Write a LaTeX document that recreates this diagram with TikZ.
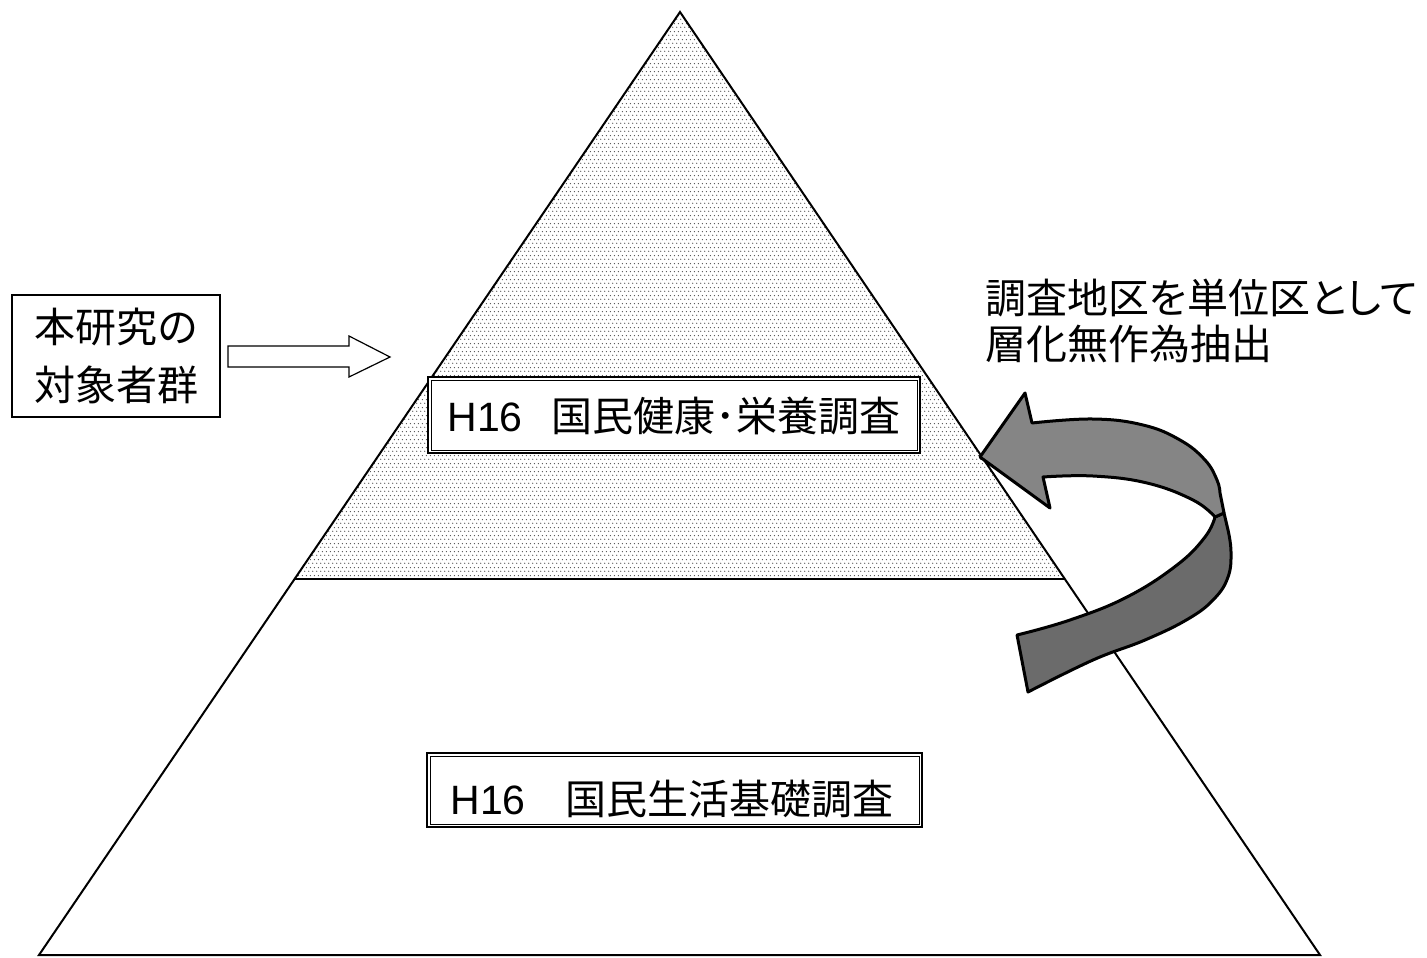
\documentclass[tikz,border=0pt]{standalone}
\usepackage{fontspec}
\setmainfont{Liberation Sans}
\newfontfamily\jp{Noto Sans CJK JP}
\newfontfamily\jpp{Noto Sans CJK JP}[RawFeature=+palt]
\usetikzlibrary{patterns.meta}
\definecolor{bandlight}{gray}{0.52}
\definecolor{banddark}{gray}{0.42}
\definecolor{dotcol}{gray}{0.3}
\tikzdeclarepattern{
  name=finedots,
  type=uncolored,
  bounding box={(0pt,0pt) and (2pt,4pt)},
  tile size={(2pt,4pt)},
  code={
    \fill (0.5pt,1pt) circle (0.38pt);
    \fill (1.5pt,3pt) circle (0.38pt);
  }
}
\begin{document}
\begin{tikzpicture}[x=0.5pt,y=-0.5pt,
  lbl/.style={inner sep=0pt, font=\fontsize{20.5pt}{24pt}\selectfont},
  dbox/.style={draw, fill=white, line width=1pt, inner sep=0pt},
  thinline/.style={line width=0.5pt},
  band/.style={draw=black, line width=1.5pt, line join=round},
  plainbox/.style={draw, line width=0.6pt, fill=white, inner sep=0pt}]
\useasboundingbox (0,0) rectangle (1427,957);
% pyramid
\coordinate (apex) at (680,12);
\coordinate (bl) at (39,955);
\coordinate (br) at (1320,955);
\coordinate (ml) at (295,579);
\coordinate (mr) at (1065,579);
\fill[pattern=finedots, pattern color=dotcol] (apex) -- (mr) -- (ml) -- cycle;
\draw[line width=0.75pt] (ml) -- (mr);
\draw[line width=1pt, line join=miter] (apex) -- (br) -- (bl) -- cycle;
% upper double box
\node[dbox, minimum width=246pt, minimum height=38pt] (kbox) at (674,415) {};
\draw[thinline] ([shift={(4,4)}]kbox.north west) rectangle ([shift={(-4,-4)}]kbox.south east);
\node[lbl, anchor=base west] (ktext) at (447,431) {H16\hspace{14.5pt}{\jp 国民健康･栄養調査}};
% lower double box
\node[dbox, minimum width=247.5pt, minimum height=37pt] (sbox) at (674.5,790) {};
\draw[thinline] ([shift={(4,4)}]sbox.north west) rectangle ([shift={(-4,-4)}]sbox.south east);
\node[lbl, anchor=base west] (stext) at (450,814) {H16\hspace{20pt}{\jp 国民生活基礎調査}};
% left box and block arrow
\node[plainbox, minimum width=104pt, minimum height=61pt, align=center,
      font=\jp\fontsize{20.5pt}{29pt}\selectfont] (lbox) at (116,356) {本研究の\\対象者群};
\coordinate (ashaft) at (228,356.5);
\filldraw[fill=white, line width=0.6pt, line join=miter]
  (ashaft) ++(0,-10.5) -- (349,346) -- (349,336) -- (390,357) -- (349,377) -- (349,367) -- (228,367) -- cycle;
% curved arrow: lower (back) band
\filldraw[band, fill=banddark] (1215,517) -- (1224,513) --
  plot[smooth, tension=0.7] coordinates {(1228,530) (1231,552) (1228,577) (1214,599) (1188,619) (1145,640) (1093,660) (1028,692)}
  -- (1017,635) --
  plot[smooth, tension=0.7] coordinates {(1017,635) (1070,620) (1127,597) (1177,565) (1205,537) (1215,517)}
  -- cycle;
% curved arrow: upper band with head
\filldraw[band, fill=bandlight] (980,457) -- (1025,393) --
  plot[smooth, tension=0.7] coordinates {(1032,423) (1093,419) (1143,425) (1180,440) (1205,460) (1217,480) (1220,493)}
  -- (1224,513) --
  plot[smooth, tension=0.7] coordinates {(1215,517) (1193,500) (1147,483) (1093,476) (1043,477)}
  -- (1050,508) -- cycle;
% right text
\node[lbl, anchor=base west] (rt1) at (985,313) {\jpp 調査地区を単位区として};
\node[lbl, anchor=base west] (rt2) at (985,359) {\jp 層化無作為抽出};
\end{tikzpicture}
\end{document}
